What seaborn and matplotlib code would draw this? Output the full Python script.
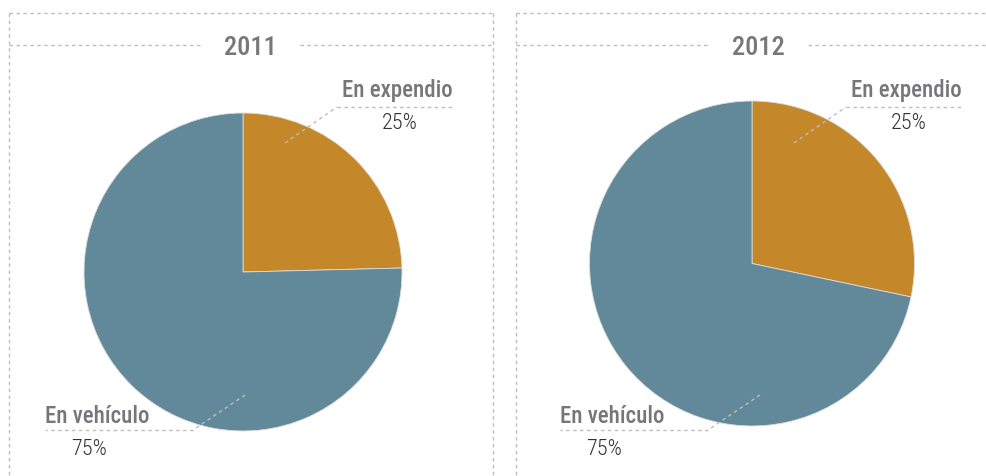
import matplotlib.pyplot as plt
import seaborn as sns
from matplotlib import font_manager

# datos
years = ["2011", "2012"]
categories = ["En expendio", "En vehículo"]
# proporciones dibujadas y etiquetas publicadas
expendio_share = [24.6, 28.3]
vehiculo_share = [75.4, 71.7]
expendio_label = ["25%", "25%"]
vehiculo_label = ["75%", "75%"]

sns.set_style("white")

# buscar alguna fuente condensada instalada
names = sorted({f.name for f in font_manager.fontManager.ttflist})
narrow = [n for n in names if any(k in n for k in ("Condensed", "Narrow", "Compressed"))]
pref = ["Roboto Condensed", "Liberation Sans Narrow", "Open Sans Condensed",
        "DejaVu Sans Condensed", "Noto Sans Condensed"]
pick = [n for n in pref if n in names] + narrow
condensed = bool(pick)
plt.rcParams['font.family'] = (pick[:1] if pick else []) + ['DejaVu Sans']
k = 1.0 if condensed else 0.8

col_exp = "#c4882b"
col_veh = "#62899a"
gray_line = "#bdbdbd"
gray_txt = "#77777b"
dark_txt = "#333333"

W, H = 986, 476
fig = plt.figure(figsize=(W / 100, H / 100), dpi=100)

# centro y radio de cada pie, posicion de marcos (px)
centers = [(243, 272, 159), (752, 263.5, 162.5)]
boxes = [(9, 493), (516, 990)]
title_gap = [(200, 300), (708, 808)]

for i, year in enumerate(years):
    cx, cy, r = centers[i]
    ax = fig.add_axes([(cx - r) / W, (H - cy - r) / H, 2 * r / W, 2 * r / H])
    ax.pie([expendio_share[i], vehiculo_share[i]], colors=[col_exp, col_veh],
           startangle=90, counterclock=False,
           wedgeprops=dict(linewidth=0.6, edgecolor="#dddddd"))
    ax.set_aspect("auto")
    ax.set_xlim(-1, 1)
    ax.set_ylim(-1, 1)
    ax.axis("off")

# capa para marcos y textos en pixeles, encima de los pies
deco = fig.add_axes([0, 0, 1, 1], zorder=5)
deco.set_xlim(0, W)
deco.set_ylim(H, 0)
deco.axis("off")
deco.patch.set_alpha(0)

for i, year in enumerate(years):
    cx, cy, r = centers[i]
    x0, x1 = boxes[i]
    g0, g1 = title_gap[i]
    ls = dict(color=gray_line, lw=1, ls=(0, (2.5, 2.5)))
    deco.plot([x0, x1], [13, 13], **ls)
    deco.plot([x0, x0], [13, H + 5], **ls)
    deco.plot([x1, x1], [13, H + 5], **ls)
    deco.plot([x0, g0], [45, 45], **ls)
    deco.plot([g1, x1], [45, 45], **ls)
    deco.text((g0 + g1) / 2, 55, year, ha="center", va="baseline",
              fontsize=19 * k, color=gray_txt, fontweight="medium")

    # etiqueta En expendio
    dx = cx - 243
    deco.plot([285 + dx, 337 + dx], [143, 107], **ls)
    deco.plot([337 + dx, 455 + dx], [107, 107], **ls)
    deco.text(453 + dx, 97, categories[0], ha="right", va="baseline",
              fontsize=16.5 * k, color=gray_txt, fontweight="medium")
    deco.text(400 + dx, 129, expendio_label[i], ha="center", va="baseline",
              fontsize=16 * k, color=dark_txt, fontweight="light")

    # etiqueta En vehículo
    vx = 0 if i == 0 else 515
    deco.plot([245 + vx, 193 + vx], [395, 430], **ls)
    deco.plot([193 + vx, 45 + vx], [430, 430], **ls)
    deco.text(45 + vx, 423, categories[1], ha="left", va="baseline",
              fontsize=16.5 * k, color=gray_txt, fontweight="medium")
    deco.text(89 + vx, 455, vehiculo_label[i], ha="center", va="baseline",
              fontsize=16 * k, color=dark_txt, fontweight="light")

plt.savefig("out.png", dpi=100)
